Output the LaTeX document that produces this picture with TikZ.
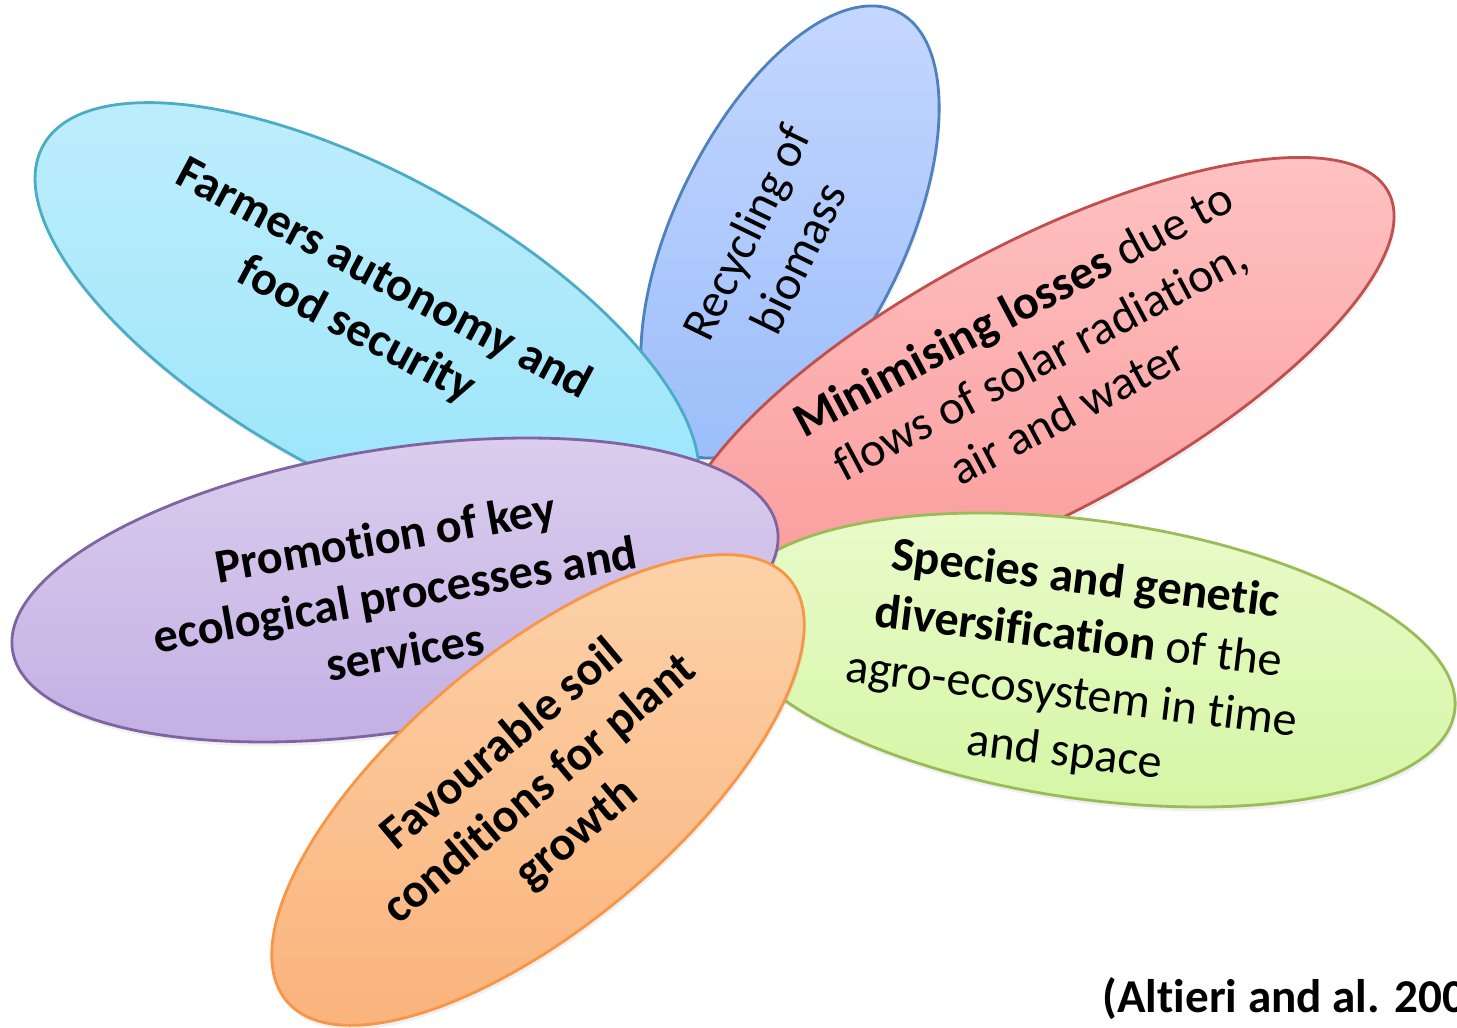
\documentclass[tikz,border=0pt]{standalone}
\usepackage{fontspec}
\setmainfont{Carlito}[RawFeature={-liga;-clig;-dlig;-calt}]
\usetikzlibrary{shapes.geometric,shadows}

% petal colours: light / dark fill and outline
\definecolor{bluelight}{RGB}{198,216,255}
\definecolor{bluedark}{RGB}{156,190,250}
\definecolor{blueline}{RGB}{79,129,189}
\definecolor{cyanlight}{RGB}{192,238,252}
\definecolor{cyandark}{RGB}{150,228,250}
\definecolor{cyanline}{RGB}{75,172,198}
\definecolor{redlight}{RGB}{255,196,196}
\definecolor{reddark}{RGB}{250,155,155}
\definecolor{redline}{RGB}{192,80,77}
\definecolor{greenlight}{RGB}{234,251,204}
\definecolor{greendark}{RGB}{214,246,166}
\definecolor{greenline}{RGB}{155,187,89}
\definecolor{purplelight}{RGB}{220,207,238}
\definecolor{purpledark}{RGB}{194,174,228}
\definecolor{purpleline}{RGB}{128,100,162}
\definecolor{orangelight}{RGB}{253,212,172}
\definecolor{orangedark}{RGB}{250,180,125}
\definecolor{orangeline}{RGB}{247,150,70}

\begin{document}
\begin{tikzpicture}[
  x=0.01cm, y=-0.01cm,
  petal/.style={ellipse, draw=#1line, line width=0.8pt, inner sep=0pt,
    top color=#1light, bottom color=#1dark,
    drop shadow={opacity=0.12, shadow xshift=0.4pt, shadow yshift=-1.2pt}},
  caption/.style={align=center, inner sep=0pt, font=\fontsize{13.7}{16.5}\selectfont}
]
\clip (0,0) rectangle (1457,1028);

% Recycling (back)
\node[petal=blue, rotate=64, minimum width=4.9cm, minimum height=2.3cm] (biomass) at (790,232) {};
\node[caption, rotate=64] (biomasstxt) at (772,245) {Recycling of\\biomass};

% Farmers autonomy
\node[petal=cyan, rotate=-29, minimum width=7.4cm, minimum height=3cm] (autonomy) at (367,325) {};
\node[caption, rotate=-28, font=\fontsize{13.7}{16.5}\selectfont\bfseries] (autonomytxt) at (370,305) {Farmers autonomy and\\food security};

% Minimising losses
\node[petal=red, rotate=28, minimum width=8cm, minimum height=2.7cm] (losses) at (1035,380) {};
\node[caption, rotate=28] (lossestxt) at (1040,360) {\textbf{Minimising losses} due to\\flows of solar radiation,\\air and water};

% Diversification
\node[petal=green, rotate=-8, minimum width=7.36cm, minimum height=2.78cm] (diversity) at (1090,660) {};
\node[caption, rotate=-7] (diversitytxt) at (1075,667) {\textbf{Species and genetic}\\\textbf{diversification} of the\\agro-ecosystem in time\\and space};

% Ecological processes
\node[petal=purple, rotate=9, minimum width=7.74cm, minimum height=2.82cm] (ecology) at (395,590) {};
\node[caption, rotate=10, font=\fontsize{13.7}{16.5}\selectfont\bfseries] (ecologytxt) at (395,594) {Promotion of key\\ecological processes and\\services};

% Soil conditions (front)
\node[petal=orange, rotate=40, minimum width=6.56cm, minimum height=2.72cm] (soil) at (538,790) {};
\node[caption, rotate=40, font=\fontsize{13.7}{16.5}\selectfont\bfseries] (soiltxt) at (540,790) {Favourable soil\\conditions for plant\\growth};

% Source
\node[anchor=base west, inner sep=0pt, font=\fontsize{13.4}{16}\selectfont\bfseries] (source) at (1102,1013) {(Altieri and al. 200};
\end{tikzpicture}
\end{document}
